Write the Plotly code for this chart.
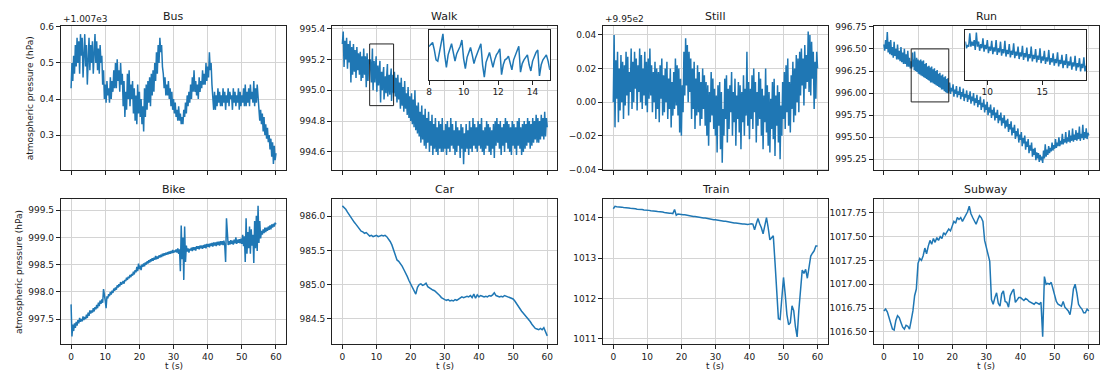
import numpy as np
import plotly.graph_objects as go

# ---------------- DATA ----------------
titles = ["Bus", "Walk", "Still", "Run", "Bike", "Car", "Train", "Subway"]
x_ticks = [0, 10, 20, 30, 40, 50, 60]

# Bus: values relative to offset 1.007e3, sampled every 0.25 s
bus_offset_label = "+1.007e3"
bus_rel = [
    0.43, 0.50, 0.45, 0.52, 0.47, 0.55, 0.49, 0.57, 0.50, 0.56, 0.47, 0.58,
    0.52, 0.57, 0.46, 0.54, 0.58, 0.49, 0.55, 0.44, 0.53, 0.57, 0.48, 0.55,
    0.50, 0.56, 0.47, 0.53, 0.58, 0.50, 0.56, 0.48, 0.54, 0.47, 0.55, 0.50,
    0.52, 0.44, 0.48, 0.40, 0.44, 0.39, 0.45, 0.41, 0.43, 0.39, 0.46, 0.40,
    0.45, 0.42, 0.48, 0.43, 0.50, 0.43, 0.51, 0.45, 0.48, 0.42, 0.50, 0.44,
    0.47, 0.38, 0.45, 0.35, 0.42, 0.37, 0.47, 0.40, 0.48, 0.38, 0.44, 0.40,
    0.45, 0.36, 0.43, 0.34, 0.41, 0.33, 0.44, 0.36, 0.42, 0.35, 0.40, 0.33,
    0.38, 0.31, 0.43, 0.35, 0.44, 0.37, 0.45, 0.39, 0.46, 0.38, 0.47, 0.41,
    0.48, 0.42, 0.50, 0.45, 0.53, 0.47, 0.55, 0.50, 0.57, 0.53, 0.55, 0.49,
    0.47, 0.43, 0.46, 0.41, 0.44, 0.41, 0.45, 0.40, 0.43, 0.38, 0.42, 0.37,
    0.40, 0.36, 0.39, 0.35, 0.37, 0.34, 0.38, 0.34, 0.36, 0.33, 0.35, 0.33,
    0.37, 0.35, 0.39, 0.36, 0.41, 0.38, 0.42, 0.39, 0.44, 0.40, 0.46, 0.42,
    0.48, 0.42, 0.45, 0.41, 0.44, 0.40, 0.46, 0.42, 0.45, 0.43, 0.48, 0.44,
    0.47, 0.44, 0.50, 0.45, 0.49, 0.46, 0.53, 0.48, 0.50, 0.44, 0.40, 0.37,
    0.42, 0.37, 0.41, 0.38, 0.43, 0.39, 0.42, 0.38, 0.41, 0.38, 0.43, 0.39,
    0.42, 0.37, 0.41, 0.39, 0.43, 0.38, 0.42, 0.40, 0.41, 0.37, 0.43, 0.39,
    0.42, 0.38, 0.41, 0.39, 0.43, 0.37, 0.42, 0.38, 0.41, 0.39, 0.43, 0.38,
    0.44, 0.38, 0.42, 0.39, 0.43, 0.38, 0.44, 0.40, 0.42, 0.39, 0.45, 0.38,
    0.43, 0.39, 0.44, 0.40, 0.38, 0.34, 0.37, 0.33, 0.36, 0.31, 0.35, 0.30,
    0.33, 0.29, 0.32, 0.28, 0.30, 0.26, 0.29, 0.24, 0.28, 0.22, 0.27, 0.23,
    0.25,
]

# Walk: 0-7.75 s every 0.25 s, 8-15 s every 0.1 s, 15.25-60 s every 0.25 s
walk_a = [
    995.30, 995.38, 995.15, 995.32, 995.20, 995.34, 995.14, 995.30,
    995.18, 995.32, 995.05, 995.28, 995.10, 995.30, 995.12, 995.26,
    995.08, 995.28, 995.13, 995.24, 995.10, 995.25, 995.06, 995.22,
    995.08, 995.27, 995.10, 995.22, 995.02, 995.24, 995.06, 995.20,
]
walk_b = [
    995.17, 995.19, 995.20, 995.14, 995.06, 995.05, 995.12, 995.20, 995.27, 995.10,
    995.00, 995.10, 995.14, 995.19, 995.12, 995.05, 995.11, 995.14, 995.17, 995.22,
    995.07, 994.99, 995.08, 995.12, 995.16, 995.10, 995.03, 995.08, 995.12, 995.15,
    995.19, 995.02, 994.92, 995.04, 995.08, 995.12, 995.06, 995.00, 995.06, 995.10,
    995.12, 995.15, 994.94, 995.02, 995.06, 995.07, 995.09, 995.03, 994.98, 995.06,
    995.10, 995.14, 995.17, 994.96, 995.03, 995.06, 995.08, 995.10, 995.02, 994.97,
    995.05, 995.09, 995.12, 995.14, 994.93, 995.02, 995.06, 995.08, 995.10, 995.05,
    994.98,
]
walk_c = [
    995.12, 994.96, 995.08, 994.92, 995.10, 994.94, 995.05, 994.88,
    995.08, 994.90, 995.02, 994.86, 995.06, 994.88, 994.98, 994.84,
    995.02, 994.82, 994.96, 994.80, 994.98, 994.78, 994.94, 994.76,
    995.00, 994.74, 994.90, 994.72, 994.92, 994.70, 994.86, 994.66,
    994.90, 994.68, 994.84, 994.64, 994.88, 994.62, 994.82, 994.66,
    994.86, 994.60, 994.80, 994.64, 994.84, 994.58, 994.78, 994.62,
    994.82, 994.60, 994.76, 994.58, 994.80, 994.62, 994.78, 994.60,
    994.82, 994.60, 994.74, 994.62, 994.78, 994.58, 994.80, 994.62,
    994.76, 994.60, 994.82, 994.64, 994.78, 994.62, 994.74, 994.58,
    994.80, 994.60, 994.76, 994.64, 994.74, 994.56, 994.78, 994.62,
    994.76, 994.52, 994.72, 994.60, 994.78, 994.62, 994.74, 994.58,
    994.80, 994.62, 994.76, 994.60, 994.82, 994.64, 994.78, 994.62,
    994.76, 994.60, 994.80, 994.64, 994.78, 994.62, 994.82, 994.60,
    994.74, 994.58, 994.76, 994.62, 994.80, 994.64, 994.78, 994.60,
    994.76, 994.58, 994.74, 994.62, 994.78, 994.56, 994.80, 994.64,
    994.82, 994.66, 994.78, 994.62, 994.80, 994.58, 994.76, 994.64,
    994.78, 994.60, 994.82, 994.66, 994.80, 994.62, 994.78, 994.60,
    994.76, 994.58, 994.80, 994.64, 994.78, 994.62, 994.76, 994.58,
    994.80, 994.64, 994.82, 994.62, 994.76, 994.58, 994.78, 994.60,
    994.80, 994.62, 994.78, 994.64, 994.82, 994.66, 994.80, 994.62,
    994.78, 994.64, 994.82, 994.66, 994.80, 994.68, 994.84, 994.66,
    994.82, 994.66, 994.80, 994.68, 994.84, 994.70, 994.82, 994.68,
    994.86, 994.70, 994.82, 994.76,
]

# Still: values relative to offset 9.95e2, every 0.25 s
still_offset_label = "+9.95e2"
still_rel = [
    0.000, 0.040, -0.015, 0.025, 0.002, 0.030, -0.012, 0.020,
    -0.005, 0.028, 0.000, 0.024, -0.010, 0.022, -0.002, 0.030,
    0.004, 0.027, -0.008, 0.018, 0.006, 0.032, -0.004, 0.024,
    0.000, 0.030, 0.008, 0.026, -0.005, 0.022, 0.006, 0.032,
    0.000, 0.028, -0.004, 0.020, 0.004, 0.030, -0.002, 0.024,
    -0.006, 0.026, 0.002, 0.032, 0.004, 0.022, -0.006, 0.018,
    0.000, 0.024, -0.010, 0.020, -0.004, 0.018, -0.012, 0.022,
    0.002, 0.026, -0.008, 0.016, -0.006, 0.020, 0.000, 0.024,
    -0.010, 0.014, -0.004, 0.020, -0.015, 0.012, -0.008, 0.018,
    -0.004, 0.026, -0.002, 0.022, -0.008, 0.020, -0.018, 0.014,
    -0.020, 0.010, -0.006, 0.030, 0.004, 0.038, 0.010, 0.034,
    0.000, 0.030, 0.006, 0.026, -0.010, 0.020, -0.004, 0.024,
    -0.016, 0.014, -0.008, 0.022, -0.006, 0.018, -0.014, 0.012,
    -0.010, 0.020, -0.004, 0.016, -0.014, 0.012, -0.020, 0.010,
    -0.026, 0.006, -0.012, 0.018, -0.008, 0.014, -0.016, 0.008,
    -0.020, 0.004, -0.030, 0.010, -0.014, 0.012, -0.028, 0.006,
    -0.036, -0.004, -0.020, 0.014, -0.010, 0.016, -0.024, 0.008,
    -0.016, 0.010, -0.006, 0.018, -0.020, 0.006, -0.012, 0.014,
    -0.026, 0.004, -0.010, 0.012, -0.018, 0.010, -0.028, 0.006,
    -0.012, 0.016, -0.020, 0.008, -0.008, 0.030, -0.014, 0.012,
    -0.022, 0.008, -0.010, 0.016, -0.016, 0.020, -0.006, 0.012,
    -0.024, 0.006, -0.014, 0.018, -0.010, 0.014, -0.020, 0.008,
    -0.028, 0.004, -0.012, 0.020, -0.018, 0.010, -0.026, 0.006,
    -0.030, 0.002, -0.016, 0.012, -0.022, 0.014, -0.032, 0.004,
    -0.014, 0.010, -0.024, 0.006, -0.034, -0.002, -0.020, 0.012,
    -0.010, 0.018, -0.016, 0.022, -0.006, 0.026, -0.014, 0.012,
    -0.018, 0.016, -0.004, 0.024, -0.012, 0.020, -0.008, 0.028,
    0.000, 0.026, -0.006, 0.030, 0.004, 0.032, 0.010, 0.026,
    -0.002, 0.034, 0.008, 0.028, 0.012, 0.042, 0.006, 0.040,
    0.004, 0.036, 0.014, 0.030, -0.004, 0.024, 0.002, 0.030,
    0.020,
]

# Run: 0-7.75 s every 0.25 s, 8-19 s every 0.1 s, 19.25-60 s every 0.25 s
run_a = [
    996.55, 996.48, 996.60, 996.50, 996.69, 996.46, 996.58, 996.44,
    996.60, 996.43, 996.52, 996.40, 996.58, 996.42, 996.50, 996.38,
    996.55, 996.38, 996.48, 996.36, 996.52, 996.35, 996.46, 996.33,
    996.50, 996.33, 996.44, 996.30, 996.48, 996.30, 996.40, 996.28,
]
run_b = [
    996.36, 996.28, 996.32, 996.30, 996.46, 996.30, 996.36, 996.31,
    996.38, 996.26, 996.47, 996.30, 996.36, 996.25, 996.33, 996.28,
    996.40, 996.24, 996.32, 996.27, 996.38, 996.22, 996.30, 996.25,
    996.37, 996.21, 996.29, 996.24, 996.38, 996.20, 996.28, 996.23,
    996.36, 996.19, 996.27, 996.22, 996.37, 996.18, 996.26, 996.21,
    996.33, 996.17, 996.25, 996.20, 996.34, 996.16, 996.24, 996.19,
    996.30, 996.15, 996.23, 996.18, 996.31, 996.14, 996.22, 996.17,
    996.29, 996.12, 996.21, 996.16, 996.30, 996.12, 996.20, 996.15,
    996.27, 996.11, 996.19, 996.14, 996.28, 996.10, 996.18, 996.13,
    996.25, 996.09, 996.17, 996.12, 996.26, 996.08, 996.16, 996.11,
    996.22, 996.07, 996.15, 996.10, 996.23, 996.06, 996.14, 996.09,
    996.20, 996.04, 996.13, 996.08, 996.21, 996.04, 996.12, 996.07,
    996.18, 996.02, 996.11, 996.06, 996.19, 996.01, 996.10, 996.05,
    996.16, 996.00, 996.09, 996.04, 996.17, 996.00, 996.06,
]
run_c = [
    996.12, 995.99, 996.06, 996.02, 996.10, 995.96, 996.04, 995.99,
    996.08, 995.95, 996.02, 995.98, 996.07, 995.93, 996.01, 995.96,
    996.05, 995.91, 995.99, 995.95, 996.03, 995.90, 995.98, 995.93,
    996.02, 995.88, 995.96, 995.91, 996.00, 995.86, 995.94, 995.89,
    995.98, 995.84, 995.92, 995.87, 995.96, 995.81, 995.89, 995.84,
    995.93, 995.78, 995.87, 995.81, 995.90, 995.75, 995.84, 995.78,
    995.87, 995.72, 995.81, 995.75, 995.84, 995.69, 995.78, 995.72,
    995.81, 995.66, 995.75, 995.69, 995.78, 995.63, 995.72, 995.66,
    995.75, 995.60, 995.69, 995.62, 995.71, 995.56, 995.65, 995.59,
    995.68, 995.52, 995.61, 995.55, 995.64, 995.48, 995.57, 995.51,
    995.60, 995.44, 995.53, 995.47, 995.56, 995.40, 995.49, 995.43,
    995.52, 995.36, 995.45, 995.39, 995.48, 995.32, 995.41, 995.35,
    995.44, 995.28, 995.37, 995.30, 995.38, 995.24, 995.33, 995.26,
    995.32, 995.22, 995.30, 995.24, 995.28, 995.21, 995.35, 995.26,
    995.42, 995.28, 995.36, 995.30, 995.40, 995.32, 995.38, 995.34,
    995.44, 995.35, 995.41, 995.37, 995.48, 995.38, 995.44, 995.40,
    995.50, 995.40, 995.46, 995.42, 995.54, 995.42, 995.48, 995.44,
    995.56, 995.43, 995.50, 995.45, 995.58, 995.44, 995.52, 995.46,
    995.60, 995.45, 995.53, 995.47, 995.58, 995.46, 995.55, 995.48,
    995.62, 995.46, 995.54, 995.49, 995.64, 995.47, 995.56, 995.49,
    995.60, 995.48, 995.55, 995.52,
]

# Bike: every 0.25 s
bike = [
    997.77, 997.18, 997.40, 997.28, 997.42, 997.34, 997.45, 997.38,
    997.48, 997.42, 997.52, 997.45, 997.50, 997.46, 997.55, 997.48,
    997.54, 997.50, 997.58, 997.52, 997.62, 997.56, 997.66, 997.60,
    997.66, 997.62, 997.70, 997.64, 997.72, 997.68, 997.76, 997.70,
    997.80, 997.74, 997.84, 997.78, 997.86, 997.80, 998.05, 997.88,
    997.84, 997.70, 997.92, 997.88, 997.96, 997.92, 998.00, 997.95,
    998.02, 997.98, 998.06, 998.02, 998.08, 998.04, 998.12, 998.08,
    998.14, 998.10, 998.18, 998.13, 998.16, 998.20, 998.15, 998.22,
    998.20, 998.26, 998.22, 998.28, 998.25, 998.31, 998.27, 998.33,
    998.30, 998.37, 998.32, 998.40, 998.36, 998.46, 998.38, 998.52,
    998.42, 998.48, 998.40, 998.50, 998.46, 998.52, 998.47, 998.54,
    998.50, 998.56, 998.52, 998.58, 998.54, 998.60, 998.56, 998.62,
    998.57, 998.63, 998.59, 998.66, 998.60, 998.65, 998.61, 998.67,
    998.63, 998.68, 998.64, 998.70, 998.66, 998.71, 998.67, 998.72,
    998.68, 998.73, 998.69, 998.74, 998.70, 998.75, 998.71, 998.77,
    998.72, 998.76, 998.73, 998.78, 998.72, 998.80, 998.70, 998.78,
    998.38, 999.22, 998.60, 999.00, 998.22, 999.20, 998.55, 998.85,
    998.74, 998.80, 998.72, 998.79, 998.76, 998.81, 998.75, 998.82,
    998.77, 998.82, 998.76, 998.84, 998.79, 998.84, 998.78, 998.85,
    998.80, 998.85, 998.79, 998.86, 998.81, 998.87, 998.80, 998.88,
    998.83, 998.88, 998.82, 998.89, 998.84, 998.90, 998.83, 998.91,
    998.85, 998.91, 998.84, 998.92, 998.86, 998.92, 998.85, 998.93,
    998.87, 998.93, 998.86, 998.94, 998.85, 998.55, 999.35, 998.95,
    998.86, 998.93, 998.87, 998.95, 998.88, 998.94, 998.87, 998.96,
    998.89, 999.00, 998.88, 998.96, 998.90, 998.97, 998.89, 998.98,
    998.88, 999.05, 998.84, 999.02, 998.55, 999.35, 998.70, 999.10,
    998.80, 999.20, 998.70, 999.15, 998.85, 999.05, 998.53, 999.30,
    998.80, 999.40, 998.75, 999.58, 998.90, 999.30, 998.98, 999.12,
    999.05, 999.15, 999.08, 999.18, 999.10, 999.18, 999.12, 999.20,
    999.14, 999.22, 999.15, 999.24, 999.18, 999.25, 999.20, 999.27,
    999.24,
]

# Car, Train, Subway: every 0.5 s
car = [
    986.15, 986.13, 986.10, 986.06, 986.02, 985.98, 985.94, 985.91,
    985.88, 985.85, 985.82, 985.78, 985.77, 985.75, 985.76, 985.73,
    985.71, 985.72, 985.70, 985.71, 985.72, 985.70, 985.71, 985.72,
    985.71, 985.72, 985.70, 985.67, 985.63, 985.58, 985.50, 985.42,
    985.36, 985.34, 985.31, 985.27, 985.22, 985.18, 985.12, 985.06,
    985.01, 984.95, 984.90, 984.86, 984.96, 985.00, 985.01, 984.99,
    985.00, 985.02, 984.97, 984.95, 984.94, 984.92, 984.91, 984.89,
    984.87, 984.84, 984.81, 984.79, 984.78, 984.77, 984.78, 984.76,
    984.77, 984.76, 984.78, 984.77, 984.79, 984.81, 984.82, 984.81,
    984.82, 984.83, 984.82, 984.84, 984.81, 984.86, 984.80, 984.85,
    984.82, 984.84, 984.83, 984.82, 984.83, 984.82, 984.84, 984.83,
    984.85, 984.88, 984.84, 984.83, 984.82, 984.83, 984.82, 984.84,
    984.83, 984.82, 984.82, 984.80, 984.79, 984.76, 984.72, 984.67,
    984.64, 984.61, 984.58, 984.55, 984.52, 984.50, 984.46, 984.42,
    984.39, 984.36, 984.35, 984.34, 984.36, 984.34, 984.37, 984.31,
    984.25,
]
train = [
    1014.22, 1014.28, 1014.27, 1014.27, 1014.26, 1014.26, 1014.25, 1014.25,
    1014.24, 1014.24, 1014.23, 1014.23, 1014.22, 1014.22, 1014.21, 1014.21,
    1014.20, 1014.20, 1014.19, 1014.19, 1014.18, 1014.18, 1014.17, 1014.17,
    1014.16, 1014.16, 1014.15, 1014.15, 1014.14, 1014.14, 1014.13, 1014.12,
    1014.12, 1014.11, 1014.11, 1014.10, 1014.20, 1014.06, 1014.09, 1014.08,
    1014.08, 1014.07, 1014.07, 1014.06, 1014.05, 1014.05, 1014.04, 1014.03,
    1014.03, 1014.02, 1014.01, 1014.01, 1014.00, 1013.99, 1013.99, 1013.98,
    1013.97, 1013.97, 1013.96, 1013.95, 1013.95, 1013.94, 1013.93, 1013.93,
    1013.92, 1013.91, 1013.91, 1013.90, 1013.89, 1013.89, 1013.88, 1013.87,
    1013.87, 1013.86, 1013.85, 1013.85, 1013.84, 1013.84, 1013.83, 1013.83,
    1013.84, 1013.85, 1013.84, 1013.70, 1013.85, 1013.98, 1013.85, 1013.75,
    1013.60, 1013.80, 1014.00, 1013.75, 1013.45, 1013.50, 1013.55, 1012.90,
    1012.30, 1011.50, 1011.48, 1012.10, 1012.52, 1012.10, 1011.60, 1011.35,
    1011.40, 1011.82, 1011.70, 1011.30, 1011.05, 1011.70, 1012.30, 1012.70,
    1012.62, 1012.72, 1012.50, 1012.80, 1013.05, 1013.12, 1013.18, 1013.30,
    1013.30,
]
subway = [
    1016.72, 1016.74, 1016.71, 1016.65, 1016.58, 1016.53, 1016.52, 1016.62,
    1016.67, 1016.65, 1016.60, 1016.55, 1016.53, 1016.57, 1016.56, 1016.53,
    1016.62, 1016.72, 1016.88, 1016.95, 1017.22, 1017.27, 1017.25, 1017.30,
    1017.38, 1017.32, 1017.40, 1017.46, 1017.42, 1017.48, 1017.44, 1017.49,
    1017.46, 1017.50, 1017.48, 1017.54, 1017.52, 1017.55, 1017.58, 1017.56,
    1017.62, 1017.66, 1017.64, 1017.70, 1017.68, 1017.70, 1017.66, 1017.69,
    1017.73, 1017.76, 1017.82, 1017.74, 1017.70, 1017.66, 1017.63, 1017.68,
    1017.72, 1017.70, 1017.66, 1017.46, 1017.38, 1017.30, 1017.24, 1016.84,
    1016.79, 1016.86, 1016.91, 1016.80, 1016.77, 1016.90, 1016.93, 1016.82,
    1016.81, 1016.76, 1016.88, 1016.92, 1016.95, 1016.81, 1016.84, 1016.86,
    1016.86, 1016.84, 1016.83, 1016.85, 1016.84, 1016.82, 1016.81, 1016.80,
    1016.79, 1016.81, 1016.80, 1016.79, 1016.81, 1016.45, 1017.08, 1017.00,
    1017.01, 1017.00, 1017.02, 1016.95, 1016.86, 1016.82, 1016.79, 1016.78,
    1016.77, 1016.82, 1016.76, 1016.74, 1016.72, 1016.68, 1016.79, 1016.95,
    1017.00, 1016.91, 1016.79, 1016.76, 1016.74, 1016.70, 1016.70, 1016.74,
    1016.72,
]

# y axis ticks for each panel
y_ticks = [
    [0.3, 0.4, 0.5, 0.6],
    [994.6, 994.8, 995.0, 995.2, 995.4],
    [-0.04, -0.02, 0.0, 0.02, 0.04],
    [995.25, 995.50, 995.75, 996.00, 996.25, 996.50, 996.75],
    [997.5, 998.0, 998.5, 999.0, 999.5],
    [984.5, 985.0, 985.5, 986.0],
    [1011, 1012, 1013, 1014],
    [1016.50, 1016.75, 1017.00, 1017.25, 1017.50, 1017.75],
]
y_fmt = [".1f", ".1f", ".2f", ".2f", ".1f", ".1f", ".0f", ".2f"]
y_ranges = [
    [0.202, 0.602], [994.48, 995.415], [-0.0406, 0.0452], [995.125, 996.757],
    [997.04, 999.705], [984.13, 986.25], [1010.87, 1014.46], [1016.372, 1017.894],
]
# zoom windows (x0, x1, y0, y1) for the insets of Walk and Run
walk_zoom = [8, 15, 994.9, 995.3]
run_zoom = [8, 19, 995.9, 996.5]
walk_inset_ticks = [8, 10, 12, 14]
run_inset_ticks = [10, 15]


def seg_t(start, dt, vals):
    return start + np.arange(len(vals)) * dt


t_q = np.arange(len(bus_rel)) * 0.25
walk_t = np.concatenate([seg_t(0, 0.25, walk_a), seg_t(8, 0.1, walk_b), seg_t(15.25, 0.25, walk_c)])
walk_v = walk_a + walk_b + walk_c
run_t = np.concatenate([seg_t(0, 0.25, run_a), seg_t(8, 0.1, run_b), seg_t(19.25, 0.25, run_c)])
run_v = run_a + run_b + run_c

series = [
    (t_q, bus_rel),
    (walk_t, walk_v),
    (np.arange(len(still_rel)) * 0.25, still_rel),
    (run_t, run_v),
    (np.arange(len(bike)) * 0.25, bike),
    (np.arange(len(car)) * 0.5, car),
    (np.arange(len(train)) * 0.5, train),
    (np.arange(len(subway)) * 0.5, subway),
]

# ---------------- LAYOUT ----------------
W, H = 1111, 376
col_px = [(58, 284), (330, 556), (601.7, 827), (873, 1099)]
row_px = [(22.7, 170), (199.3, 347.5)]
ylabel_x = [27, 15.5]
LINE = "#1f77b4"
LW = 1.5
FONT = "DejaVu Sans"
TXT = "#1a1a1a"
GRID = "#d4d4d4"
SPINE = "#222"


def px_x(a, b):
    return [a / W, b / W]


def px_y(top, bot):
    return [1 - bot / H, 1 - top / H]


fig = go.Figure()
layout = dict(
    width=W, height=H, margin=dict(l=0, r=0, t=0, b=0),
    paper_bgcolor="white", plot_bgcolor="white",
    font=dict(family=FONT, size=9, color=TXT), showlegend=False,
)
annotations = []
shapes = []


def fmt_tick(v, f):
    return format(v, f).replace("-", "\u2212")


def txt(text, x, y, size=9, xanchor="center", angle=0):
    return dict(text=text, x=x / W, y=1 - y / H, xref="paper", yref="paper", showarrow=False,
                xanchor=xanchor, yanchor="middle", textangle=angle,
                font=dict(size=size, family=FONT, color=TXT))


for i, (t, v) in enumerate(series):
    r, c = divmod(i, 4)
    ax = i + 1
    xname = "xaxis" if ax == 1 else f"xaxis{ax}"
    yname = "yaxis" if ax == 1 else f"yaxis{ax}"
    xr = "x" if ax == 1 else f"x{ax}"
    yr = "y" if ax == 1 else f"y{ax}"
    fig.add_trace(go.Scatter(x=t, y=v, mode="lines", line=dict(color=LINE, width=LW),
                             xaxis=xr, yaxis=yr, hoverinfo="skip"))
    common = dict(ticks="outside", ticklen=4, tickwidth=1, tickcolor=SPINE,
                  showline=True, mirror=True, linecolor=SPINE, linewidth=1,
                  showgrid=True, gridcolor=GRID, gridwidth=1, zeroline=False,
                  tickfont=dict(size=9, family=FONT, color=TXT))
    layout[xname] = dict(
        domain=px_x(*col_px[c]), anchor=yr, range=[-3, 63],
        tickmode="array", tickvals=x_ticks, ticktext=[str(k) for k in x_ticks],
        showticklabels=(r == 1), **common)
    layout[yname] = dict(
        domain=px_y(*row_px[r]), anchor=xr, range=y_ranges[i],
        tickmode="array", tickvals=y_ticks[i],
        ticktext=[fmt_tick(k, y_fmt[i]) for k in y_ticks[i]], **common)
    cx = (col_px[c][0] + col_px[c][1]) / 2
    annotations.append(txt(titles[i], cx, 12.5 if r == 0 else 190, size=11))
    if r == 1:
        annotations.append(txt("t (s)", cx, 370))
    if c == 0:
        cy = (row_px[r][0] + row_px[r][1]) / 2
        annotations.append(txt("atmospheric pressure (hPa)", ylabel_x[r], cy, angle=-90))

# offset labels
annotations.append(txt(bus_offset_label, 58, 15.5, xanchor="left"))
annotations.append(txt(still_offset_label, 601.7, 15.5, xanchor="left"))

# insets
insets = [
    (9, 2, walk_t, walk_v, walk_zoom, walk_inset_ticks, (427.3, 548.3)),
    (10, 4, run_t, run_v, run_zoom, run_inset_ticks, (965, 1086)),
]
for ax, parent, t, v, z, ticks, (xa, xb) in insets:
    xr, yr = f"x{ax}", f"y{ax}"
    shapes.append(dict(type="rect", xref=xr, yref=yr, x0=z[0], x1=z[1], y0=z[2], y1=z[3],
                       fillcolor="white", line=dict(width=0), layer="between"))
    fig.add_trace(go.Scatter(x=t, y=v, mode="lines", line=dict(color=LINE, width=LW),
                             xaxis=xr, yaxis=yr, hoverinfo="skip"))
    layout[f"xaxis{ax}"] = dict(
        domain=px_x(xa, xb), anchor=yr, range=[z[0], z[1]],
        tickmode="array", tickvals=ticks, ticktext=[str(k) for k in ticks],
        ticks="outside", ticklen=4, tickwidth=1, tickcolor=SPINE,
        showline=True, mirror=True, linecolor=SPINE, linewidth=1,
        showgrid=False, zeroline=False, tickfont=dict(size=9, family=FONT, color=TXT),
    )
    layout[f"yaxis{ax}"] = dict(
        domain=px_y(26.7, 77.3), anchor=xr, range=[z[2], z[3]],
        showticklabels=False, ticks="",
        showline=True, mirror=True, linecolor=SPINE, linewidth=1,
        showgrid=False, zeroline=False,
    )
    shapes.append(dict(type="rect", xref=f"x{parent}", yref=f"y{parent}",
                       x0=z[0], x1=z[1], y0=z[2], y1=z[3],
                       line=dict(color=SPINE, width=1), fillcolor="rgba(0,0,0,0)", layer="above"))

layout["annotations"] = annotations
layout["shapes"] = shapes
fig.update_layout(**layout)
fig.write_html("out.html")
